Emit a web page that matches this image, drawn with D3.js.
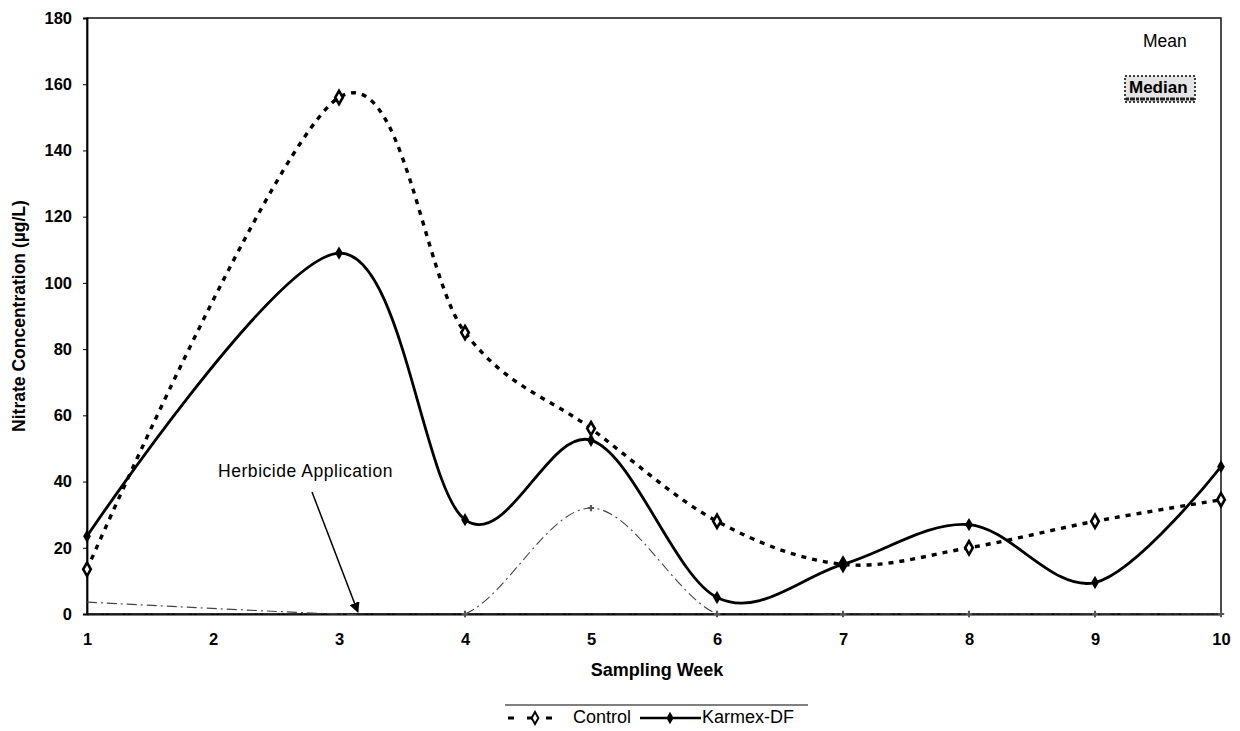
<!DOCTYPE html>
<html>
<head>
<meta charset="utf-8">
<script src="https://cdn.jsdelivr.net/npm/d3@7"></script>
<style>
  body { margin: 0; background: #fff; }
  text { font-family: "Liberation Sans", Arial, sans-serif; fill: #000; }
</style>
</head>
<body>
<div id="chart"></div>
<script>
// weeks sampled, week 2 has no reading
const weeks = [1, 2, 3, 4, 5, 6, 7, 8, 9, 10]
const controlMean = [13.5, null, 156, 85, 56, 28, 15, 20, 28, 34.5]
const karmexMean = [23.5, null, 109, 28.5, 52.5, 5, 15, 27, 9.5, 44.5]
const controlMedian = [3.6, null, 0, 0, 32, 0, 0, 0, 0, 0]
const karmexMedian = [0, null, 0, 0, 0, 0, 0, 0, 0, 0]
const yTicks = [0, 20, 40, 60, 80, 100, 120, 140, 160, 180]

const W = 1240, H = 731
const m = { left: 87, right: 19, top: 18, bottom: 117 }

const svg = d3.select('#chart').append('svg')
    .attr('width', W)
    .attr('height', H)

const x = d3.scaleLinear().domain([1, 10]).range([m.left, W - m.right])
const y = d3.scaleLinear().domain([0, 180]).range([H - m.bottom, m.top])

const defs = svg.append('defs')
defs.append('clipPath').attr('id', 'plot')
    .append('rect')
    .attr('x', x(1) - 10).attr('y', y(180))
    .attr('width', x(10) - x(1) + 20).attr('height', y(0) - y(180) + 1)

// plot frame
svg.append('rect')
    .attr('x', x(1)).attr('y', y(180))
    .attr('width', x(10) - x(1)).attr('height', y(0) - y(180))
    .attr('fill', 'none')
    .attr('stroke', '#111')
    .attr('stroke-width', 1.5)

const yAxis = svg.append('g')
    .attr('transform', `translate(${x(1)},0)`)
    .call(d3.axisLeft(y).tickValues(yTicks).tickSize(4).tickPadding(11))
yAxis.select('.domain').attr('stroke-width', 1.8)
yAxis.selectAll('text').attr('font-size', 16.5).attr('font-weight', 'bold')

const xAxis = svg.append('g')
    .attr('transform', `translate(0,${y(0)})`)
    .call(d3.axisBottom(x).tickValues(weeks).tickFormat(d3.format('d')).tickSize(0).tickPadding(19))
xAxis.select('.domain').attr('stroke-width', 2)
xAxis.selectAll('text').attr('font-size', 16.5).attr('font-weight', 'bold')

svg.append('text')
    .attr('transform', `translate(25,316) rotate(-90)`)
    .attr('text-anchor', 'middle')
    .attr('font-size', 17.5)
    .attr('font-weight', 'bold')
    .text('Nitrate Concentration (\u00b5g/L)')

svg.append('text')
    .attr('x', 657)
    .attr('y', 676)
    .attr('text-anchor', 'middle')
    .attr('font-size', 18)
    .attr('font-weight', 'bold')
    .text('Sampling Week')

const toPts = vals => weeks.map((w, i) => ({ w, v: vals[i] })).filter(d => d.v != null)

const line = d3.line()
    .x(d => x(d.w))
    .y(d => y(d.v))
    .curve(d3.curveCatmullRom.alpha(0))

const series = [
    { vals: karmexMedian, stroke: '#333', width: 1.2, dash: '14,3,2,3' },
    { vals: controlMedian, stroke: '#444', width: 1.1, dash: '10,4,2,4' },
    { vals: controlMean, stroke: '#000', width: 3.4, dash: '5,6' },
    { vals: karmexMean, stroke: '#000', width: 2.8, dash: null }
]

svg.append('g').attr('clip-path', 'url(#plot)')
    .selectAll('path.series').data(series).enter()
    .append('path')
    .attr('class', 'series')
    .attr('d', s => line(toPts(s.vals)))
    .attr('fill', 'none')
    .attr('stroke', s => s.stroke)
    .attr('stroke-width', s => s.width)
    .attr('stroke-dasharray', s => s.dash)

const diamond = d3.symbol().type(d3.symbolDiamond)

svg.selectAll('path.ctl').data(toPts(controlMean)).enter()
    .append('path')
    .attr('class', 'ctl')
    .attr('d', diamond.size(50))
    .attr('transform', d => `translate(${x(d.w)},${y(d.v)})`)
    .attr('fill', '#fff')
    .attr('stroke', '#000')
    .attr('stroke-width', 2.6)

svg.selectAll('path.kdf').data(toPts(karmexMean)).enter()
    .append('path')
    .attr('class', 'kdf')
    .attr('d', diamond.size(52))
    .attr('transform', d => `translate(${x(d.w)},${y(d.v)})`)
    .attr('fill', '#000')

svg.selectAll('path.med').data(toPts(controlMedian).filter(d => d.w > 3)).enter()
    .append('path')
    .attr('class', 'med')
    .attr('d', d3.symbol().type(d3.symbolCross).size(22))
    .attr('transform', d => `translate(${x(d.w)},${y(d.v)})`)
    .attr('fill', '#555')

// annotation
svg.append('text')
    .attr('x', 218).attr('y', 477)
    .attr('font-size', 17.5)
    .attr('letter-spacing', 0.55)
    .text('Herbicide Application')

defs.append('marker')
    .attr('id', 'arrow')
    .attr('viewBox', '0 0 10 10')
    .attr('refX', 9).attr('refY', 5)
    .attr('markerWidth', 7).attr('markerHeight', 7)
    .attr('orient', 'auto')
    .append('path')
    .attr('d', 'M0,0 L10,5 L0,10 Z')
    .attr('fill', '#000')

svg.append('line')
    .attr('x1', 312).attr('y1', 492)
    .attr('x2', x(3.15)).attr('y2', y(0) - 2)
    .attr('stroke', '#000')
    .attr('stroke-width', 1.5)
    .attr('marker-end', 'url(#arrow)')

// Mean / Median labels
svg.append('text')
    .attr('x', 1143).attr('y', 47)
    .attr('font-size', 17.5)
    .text('Mean')

svg.append('rect')
    .attr('x', 1125).attr('y', 76)
    .attr('width', 70).attr('height', 26)
    .attr('fill', '#e4e4e4')
    .attr('stroke', '#000')
    .attr('stroke-width', 1.5)
    .attr('stroke-dasharray', '2,2')

svg.append('text')
    .attr('x', 1129).attr('y', 93)
    .attr('font-size', 17)
    .attr('font-weight', 'bold')
    .text('Median')

svg.append('line')
    .attr('x1', 1126).attr('x2', 1194)
    .attr('y1', 99).attr('y2', 99)
    .attr('stroke', '#222')
    .attr('stroke-width', 3)
    .attr('stroke-dasharray', '3,1,5,1')

// legend
const lg = svg.append('g')
lg.append('line')
    .attr('x1', 505).attr('x2', 808)
    .attr('y1', 705).attr('y2', 705)
    .attr('stroke', '#000').attr('stroke-width', 1.2)

lg.append('line')
    .attr('x1', 508).attr('x2', 562)
    .attr('y1', 718).attr('y2', 718)
    .attr('stroke', '#000').attr('stroke-width', 3)
    .attr('stroke-dasharray', '6,13')
lg.append('path')
    .attr('d', diamond.size(40))
    .attr('transform', 'translate(535,718)')
    .attr('fill', '#fff').attr('stroke', '#000').attr('stroke-width', 2)
lg.append('text')
    .attr('x', 573).attr('y', 723)
    .attr('font-size', 18)
    .text('Control')

lg.append('line')
    .attr('x1', 640).attr('x2', 701)
    .attr('y1', 718).attr('y2', 718)
    .attr('stroke', '#000').attr('stroke-width', 2.4)
lg.append('path')
    .attr('d', diamond.size(45))
    .attr('transform', 'translate(670,718)')
    .attr('fill', '#000')
lg.append('text')
    .attr('x', 702).attr('y', 723)
    .attr('font-size', 18)
    .text('Karmex-DF')
</script>
</body>
</html>
